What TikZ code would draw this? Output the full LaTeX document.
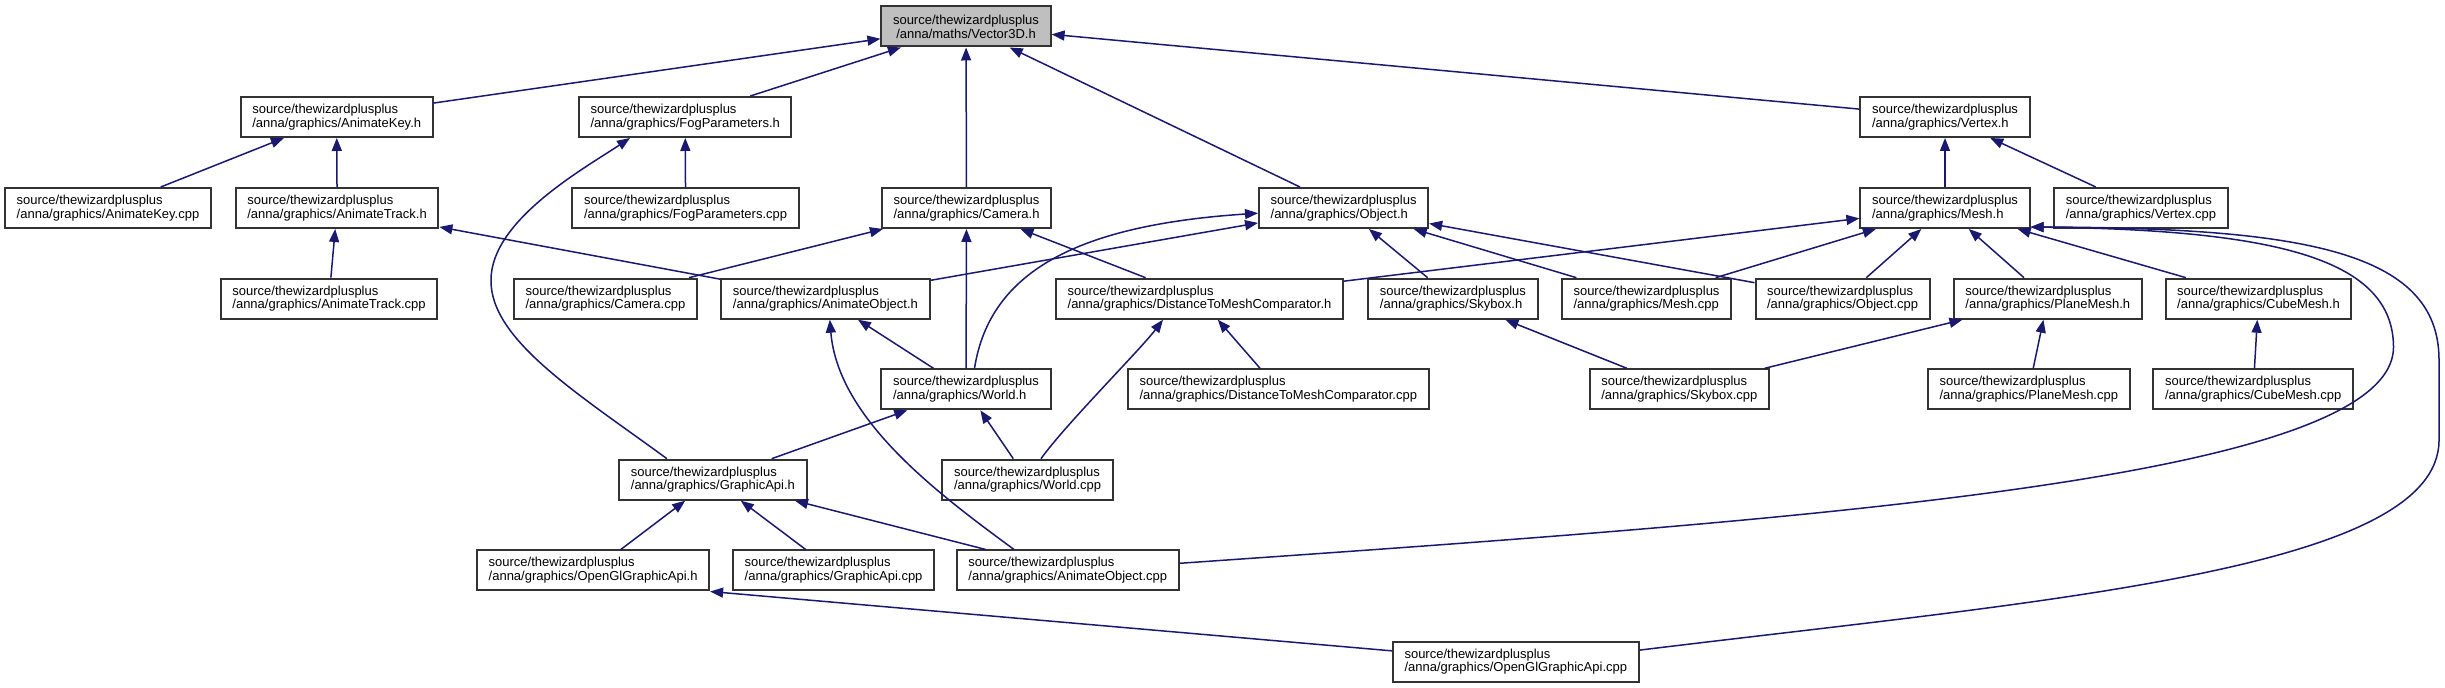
\documentclass[tikz,border=0pt]{standalone}
\usepackage{fontspec}
\setmainfont{Liberation Sans}
\usetikzlibrary{arrows.meta}
\definecolor{edgecol}{RGB}{25,25,112}
\begin{document}
\begin{tikzpicture}[x=0.5pt,y=-0.5pt,
  box/.style={draw=black!80,line width=1pt,fill=white,rectangle,align=left,
    inner xsep=5.8pt,inner ysep=0pt,minimum height=20pt,
    font=\fontsize{6.5pt}{6.9pt}\selectfont},
  edge/.style={draw=edgecol,line width=0.75pt,-{Triangle[length=6.5pt,width=5pt]}}]
\useasboundingbox (0,0) rectangle (2445,688);
% nodes
\node[box,fill=black!25,align=center] (vec) at (966,26.5) {source/thewizardplusplus\\/anna/maths/Vector3D.h};
\node[box] (akh) at (336.7,117) {source/thewizardplusplus\\/anna/graphics/AnimateKey.h};
\node[box] (fph) at (685.2,117) {source/thewizardplusplus\\/anna/graphics/FogParameters.h};
\node[box] (vxh) at (1945,117) {source/thewizardplusplus\\/anna/graphics/Vertex.h};
\node[box] (akc) at (108,208) {source/thewizardplusplus\\/anna/graphics/AnimateKey.cpp};
\node[box] (ath) at (337.1,208) {source/thewizardplusplus\\/anna/graphics/AnimateTrack.h};
\node[box] (fpc) at (685.6,208) {source/thewizardplusplus\\/anna/graphics/FogParameters.cpp};
\node[box] (camh) at (966.5,208) {source/thewizardplusplus\\/anna/graphics/Camera.h};
\node[box] (objh) at (1343.6,208) {source/thewizardplusplus\\/anna/graphics/Object.h};
\node[box] (meshh) at (1945,208) {source/thewizardplusplus\\/anna/graphics/Mesh.h};
\node[box] (vxc) at (2141,208) {source/thewizardplusplus\\/anna/graphics/Vertex.cpp};
\node[box] (atc) at (329,298.7) {source/thewizardplusplus\\/anna/graphics/AnimateTrack.cpp};
\node[box] (camc) at (605.4,298.7) {source/thewizardplusplus\\/anna/graphics/Camera.cpp};
\node[box] (aoh) at (825.4,298.7) {source/thewizardplusplus\\/anna/graphics/AnimateObject.h};
\node[box] (dmh) at (1199.5,298.7) {source/thewizardplusplus\\/anna/graphics/DistanceToMeshComparator.h};
\node[box] (skh) at (1452.9,298.7) {source/thewizardplusplus\\/anna/graphics/Skybox.h};
\node[box] (meshc) at (1646.5,298.7) {source/thewizardplusplus\\/anna/graphics/Mesh.cpp};
\node[box] (objc) at (1842.6,298.7) {source/thewizardplusplus\\/anna/graphics/Object.cpp};
\node[box] (pmh) at (2047.8,298.7) {source/thewizardplusplus\\/anna/graphics/PlaneMesh.h};
\node[box] (cmh) at (2258.5,298.7) {source/thewizardplusplus\\/anna/graphics/CubeMesh.h};
\node[box] (wh) at (966,389.3) {source/thewizardplusplus\\/anna/graphics/World.h};
\node[box] (dmc) at (1278.3,389.3) {source/thewizardplusplus\\/anna/graphics/DistanceToMeshComparator.cpp};
\node[box] (skc) at (1679.3,389.3) {source/thewizardplusplus\\/anna/graphics/Skybox.cpp};
\node[box] (pmc) at (2028.8,389.3) {source/thewizardplusplus\\/anna/graphics/PlaneMesh.cpp};
\node[box] (cmc) at (2253.2,389.3) {source/thewizardplusplus\\/anna/graphics/CubeMesh.cpp};
\node[box] (gah) at (712.9,479.7) {source/thewizardplusplus\\/anna/graphics/GraphicApi.h};
\node[box] (wc) at (1027.6,479.7) {source/thewizardplusplus\\/anna/graphics/World.cpp};
\node[box] (oglh) at (593.1,570.5) {source/thewizardplusplus\\/anna/graphics/OpenGlGraphicApi.h};
\node[box] (gac) at (833.6,570.5) {source/thewizardplusplus\\/anna/graphics/GraphicApi.cpp};
\node[box] (aoc) at (1067.8,570.5) {source/thewizardplusplus\\/anna/graphics/AnimateObject.cpp};
\node[box] (oglc) at (1515.8,661.7) {source/thewizardplusplus\\/anna/graphics/OpenGlGraphicApi.cpp};
% straight edges
\draw[edge] (akh) -- (vec);
\draw[edge] (fph) -- (vec);
\draw[edge] (camh) -- (vec);
\draw[edge] (objh) -- (vec);
\draw[edge] (vxh) -- (vec);
\draw[edge] (akc) -- (akh);
\draw[edge] (ath) -- (akh);
\draw[edge] (fpc) -- (fph);
\draw[edge] (atc) -- (ath);
\draw[edge] (aoh) -- (ath);
\draw[edge] (camc) -- (camh);
\draw[edge] (wh) -- (camh);
\draw[edge] (dmh) -- (camh);
\draw[edge] (aoh) -- (objh);
\draw[edge] (skh) -- (objh);
\draw[edge] (meshc) -- (objh);
\draw[edge] (objc) -- (objh);
\draw[edge] (meshh) -- (vxh);
\draw[edge] (vxc) -- (vxh);
\draw[edge] (dmh) -- (meshh);
\draw[edge] (meshc) -- (meshh);
\draw[edge] (objc) -- (meshh);
\draw[edge] (pmh) -- (meshh);
\draw[edge] (cmh) -- (meshh);
\draw[edge] (skc) -- (pmh);
\draw[edge] (pmc) -- (pmh);
\draw[edge] (cmc) -- (cmh);
\draw[edge] (skc) -- (skh);
\draw[edge] (dmc) -- (dmh);
\draw[edge] (wh) -- (aoh);
\draw[edge] (gah) -- (wh);
\draw[edge] (wc) -- (wh);
\draw[edge] (oglh) -- (gah);
\draw[edge] (gac) -- (gah);
\draw[edge] (aoc) -- (gah);
\draw[edge] (oglc.175) -- (oglh.south east);
% curved edges
\draw[edge] ([xshift=-23pt]gah.north) .. controls (580,395) and (490,340) .. (491,280)
  .. controls (491,220) and (585,168) .. ([xshift=-27.6pt]fph.south);
\draw[edge] ([xshift=4.25pt]wh.north) .. controls (990,270) and (1080,225) .. ([yshift=-2.6pt]objh.west);
\draw[edge] ([xshift=6.7pt]wc.north) .. controls (1065,425) and (1140,350) .. ([xshift=-18.25pt]dmh.south);
\draw[edge] ([xshift=-26.9pt]aoc.north) .. controls (940,495) and (838,420) .. ([xshift=2.2pt]aoh.south);
\draw[edge] ([yshift=3.6pt]aoc.east) .. controls (1800,520) and (2393,480) .. (2393.5,347)
  .. controls (2393,260) and (2280,230) .. ([yshift=1pt]meshh.south east);
\draw[edge] ([yshift=5.8pt]oglc.east) .. controls (2050,600) and (2439,570) .. (2439,440)
  -- (2439,360) .. controls (2439,250) and (2300,228) .. ([yshift=1pt]meshh.south east);
\end{tikzpicture}
\end{document}
